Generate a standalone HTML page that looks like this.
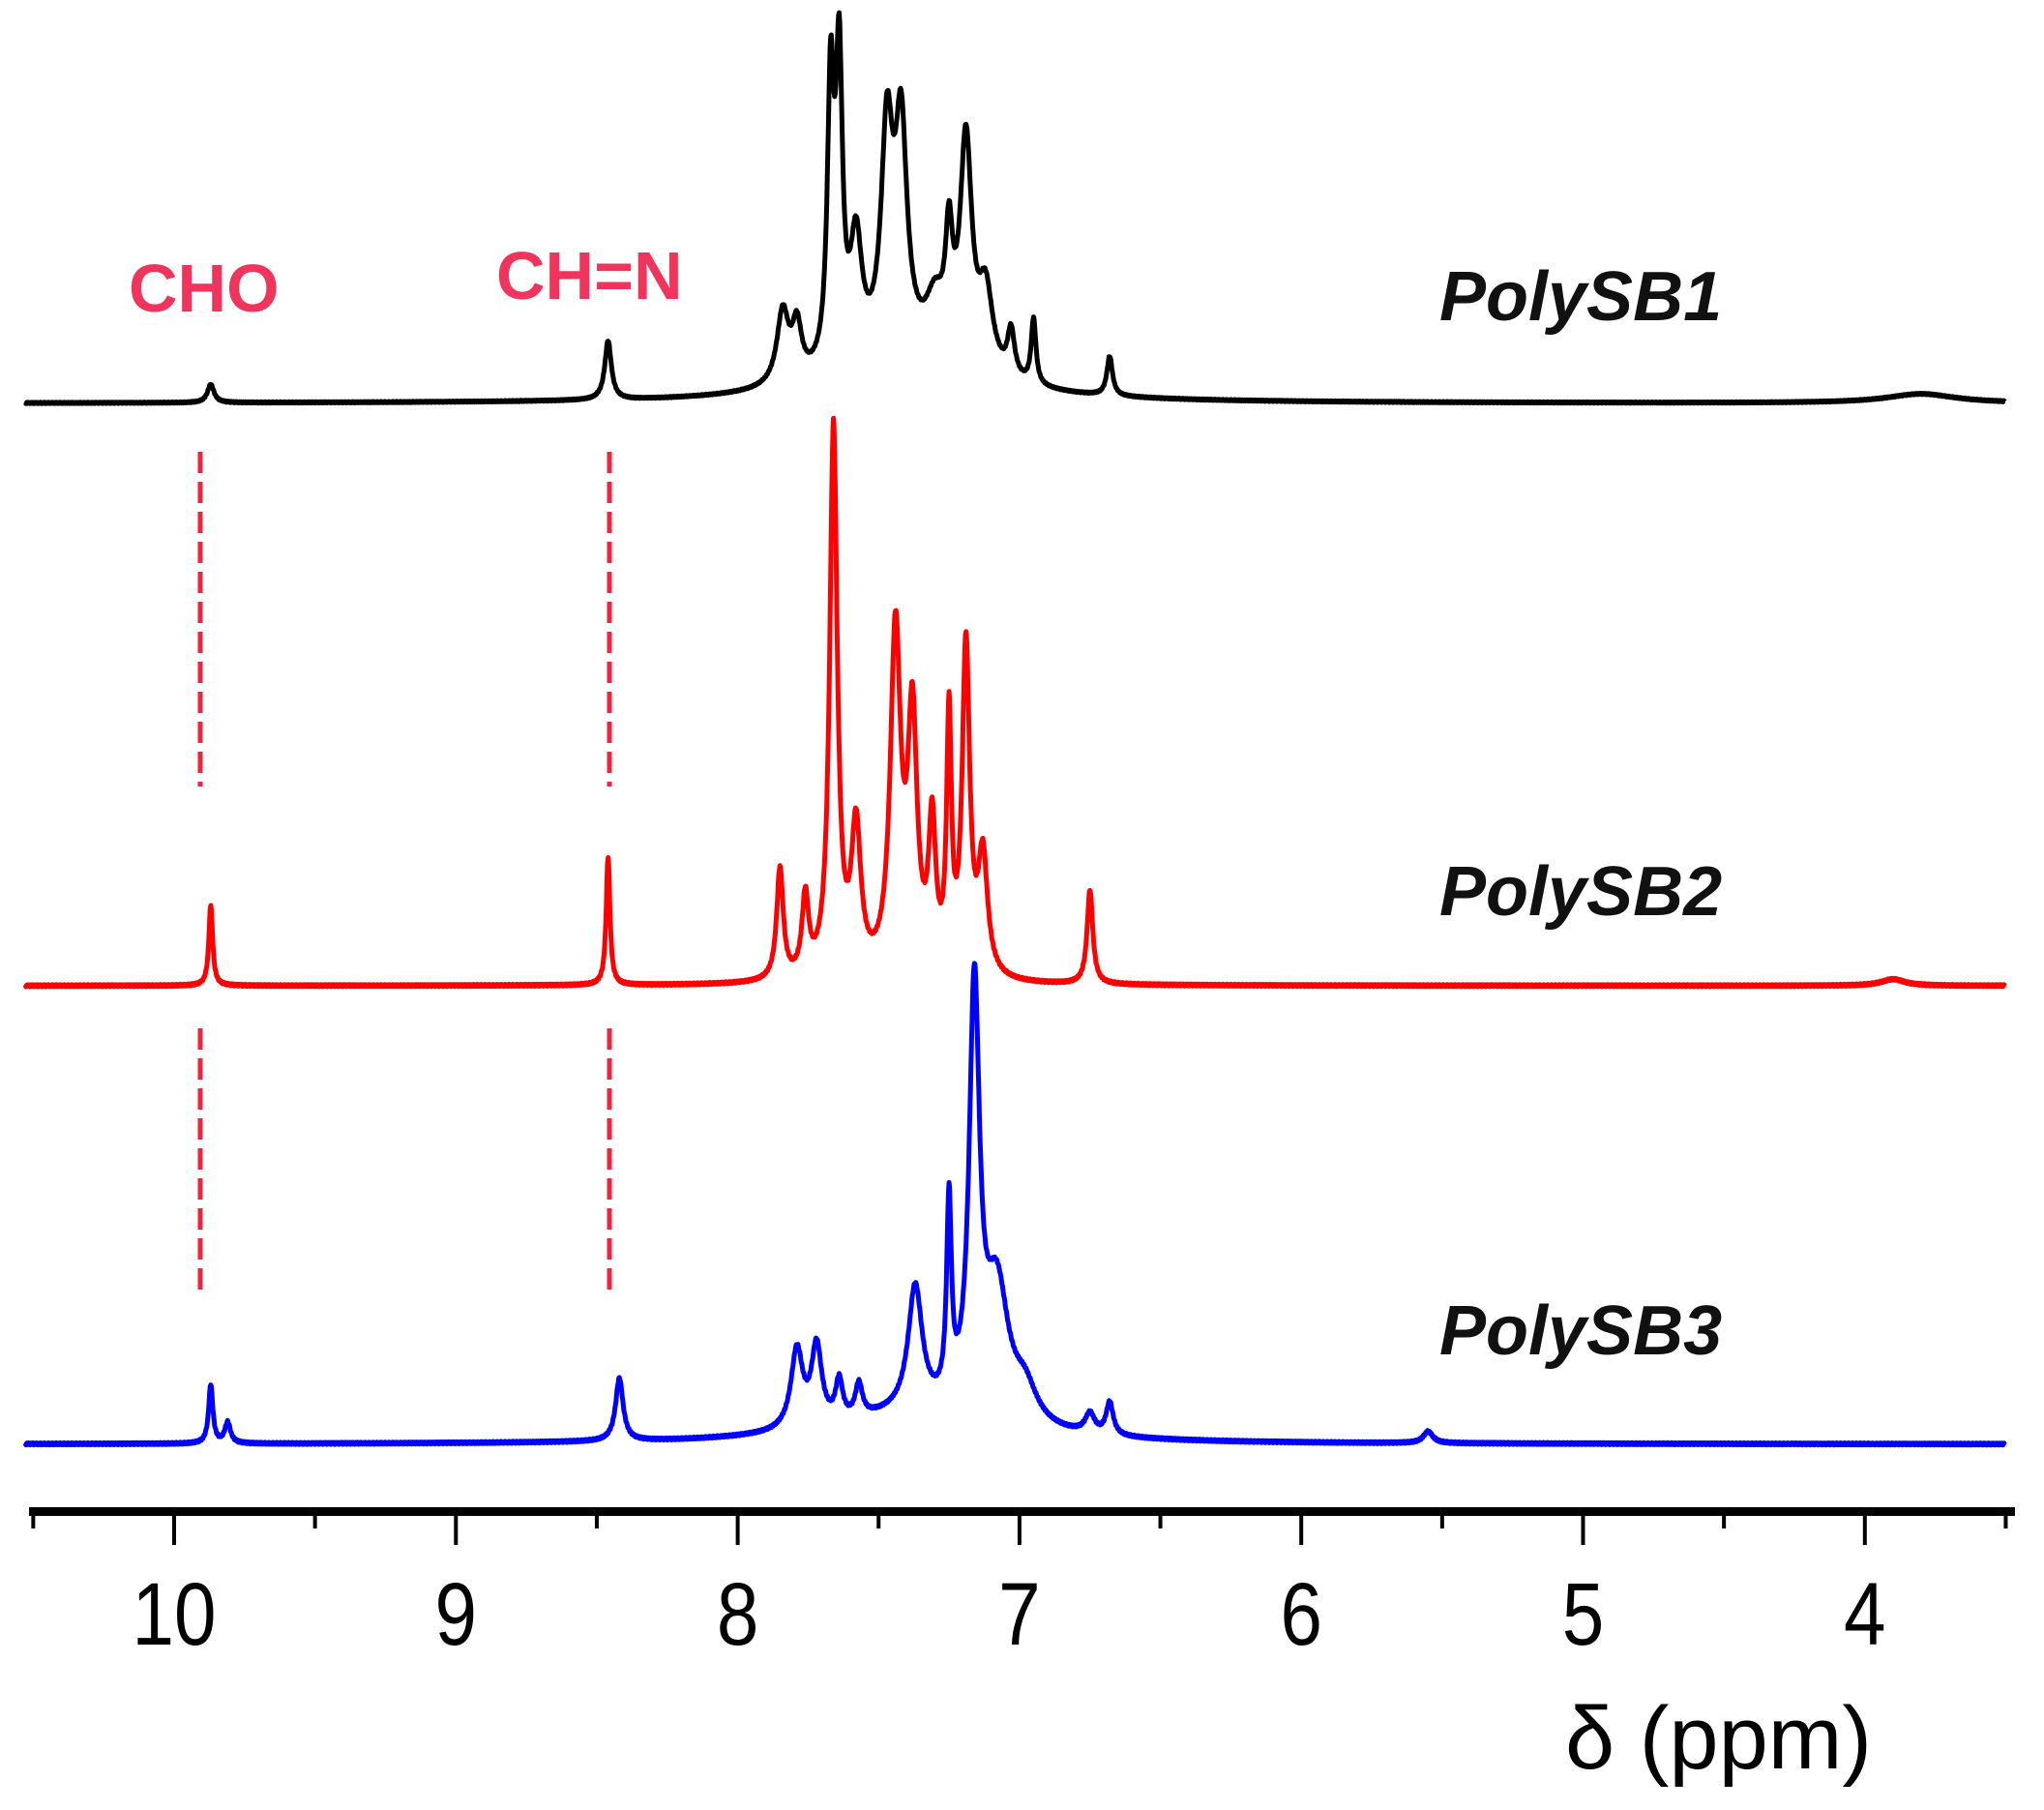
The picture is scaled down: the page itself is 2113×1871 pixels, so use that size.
<!DOCTYPE html>
<html><head><meta charset="utf-8">
<style>html,body{margin:0;padding:0;background:#fff}svg{display:block}</style></head>
<body>
<svg id="s" width="2113" height="1871" viewBox="0 0 2113 1871" xmlns="http://www.w3.org/2000/svg">
<rect width="2113" height="1871" fill="#fff"/>
<g font-family="Liberation Sans, Arial, sans-serif">
<text x="133" y="322" font-size="70" font-weight="bold" fill="#f0345c">CHO</text>
<text x="513" y="309" font-size="70" font-weight="bold" fill="#f0345c">CH=N</text>
<text x="1488" y="331" font-size="72" font-weight="bold" font-style="italic" fill="#111">PolySB1</text>
<text x="1488" y="946" font-size="72" font-weight="bold" font-style="italic" fill="#111">PolySB2</text>
<text x="1488" y="1400" font-size="72" font-weight="bold" font-style="italic" fill="#111">PolySB3</text>
</g>
<g stroke="#f0243c" stroke-width="5" stroke-dasharray="22,9">
<line x1="207" y1="467" x2="207" y2="813"/>
<line x1="630" y1="467" x2="630" y2="813"/>
<line x1="207" y1="1063" x2="207" y2="1334"/>
<line x1="630" y1="1063" x2="630" y2="1334"/>
</g>
<g id="spec" fill="none" stroke-width="5" stroke-linejoin="round"></g>
<rect x="30" y="1558" width="2053" height="9" fill="#000"/>
<g id="ticks" stroke="#000" stroke-width="4"></g>
<g font-family="Liberation Sans, Arial, sans-serif" font-size="92" text-anchor="middle" fill="#000" id="lbl"></g>
<text x="1618" y="1828" font-family="Liberation Sans, Arial, sans-serif" font-size="92" fill="#000">δ (ppm)</text>
</svg>
<script>
var s=1.3545;
function X(p){return 180+(10-p)*291.3;}
function spec(base,peaks,col,noise){
  var d="";
  for(var p=10.53;p>=3.5;p-=0.002){
    var y=0;
    for(var i=0;i<peaks.length;i++){var q=peaks[i],t=(p-q[0])/q[2];y+=q[1]/(1+t*t);}
    y+=Math.sin(p*900)*noise;
    d+=(d?"L":"M")+X(p).toFixed(1)+","+(base-y*s).toFixed(1);
  }
  var e=document.createElementNS("http://www.w3.org/2000/svg","path");
  e.setAttribute("d",d);e.setAttribute("stroke",col);
  document.getElementById("spec").appendChild(e);
}
spec(417,[[9.87,14,0.014],[8.46,45,0.014],[7.84,55,0.025],[7.79,40,0.02],[7.67,210,0.014],[7.64,220,0.014],[7.58,90,0.025],[7.47,165,0.025],[7.42,165,0.025],[7.3,40,0.04],[7.25,80,0.015],[7.19,170,0.025],[7.12,60,0.03],[7.03,35,0.015],[6.95,50,0.01],[6.68,30,0.012],[7.4,30,0.3],[3.8,7,0.15]],"#000",0.5);
spec(1019,[[9.87,62,0.008],[8.46,98,0.008],[7.85,85,0.014],[7.76,60,0.014],[7.66,420,0.016],[7.58,110,0.02],[7.44,260,0.022],[7.38,190,0.02],[7.31,110,0.015],[7.25,190,0.01],[7.19,250,0.016],[7.13,90,0.02],[6.75,72,0.012],[3.9,5,0.05]],"#ff0000",0.8);
spec(1493,[[9.87,45,0.009],[9.81,16,0.012],[8.42,48,0.016],[7.79,60,0.025],[7.72,60,0.022],[7.64,30,0.015],[7.57,25,0.015],[7.37,95,0.03],[7.25,150,0.01],[7.16,320,0.022],[7.08,100,0.05],[6.98,25,0.05],[6.75,15,0.02],[6.68,25,0.015],[5.55,9,0.02],[7.4,20,0.35]],"#0000ff",0.8);
var tk=document.getElementById("ticks"),lb=document.getElementById("lbl"),ns="http://www.w3.org/2000/svg";
for(var v=10.5;v>=3.49;v-=0.5){
  var x=X(v),maj=Math.abs(v-Math.round(v))<0.01;
  var l=document.createElementNS(ns,"line");
  l.setAttribute("x1",x);l.setAttribute("x2",x);l.setAttribute("y1",1562);l.setAttribute("y2",maj?1597:1580);
  tk.appendChild(l);
  if(maj){var t=document.createElementNS(ns,"text");t.setAttribute("transform","translate("+x+",1700) scale(0.85,1)");t.textContent=Math.round(v);lb.appendChild(t);}
}
</script>
</body></html>
